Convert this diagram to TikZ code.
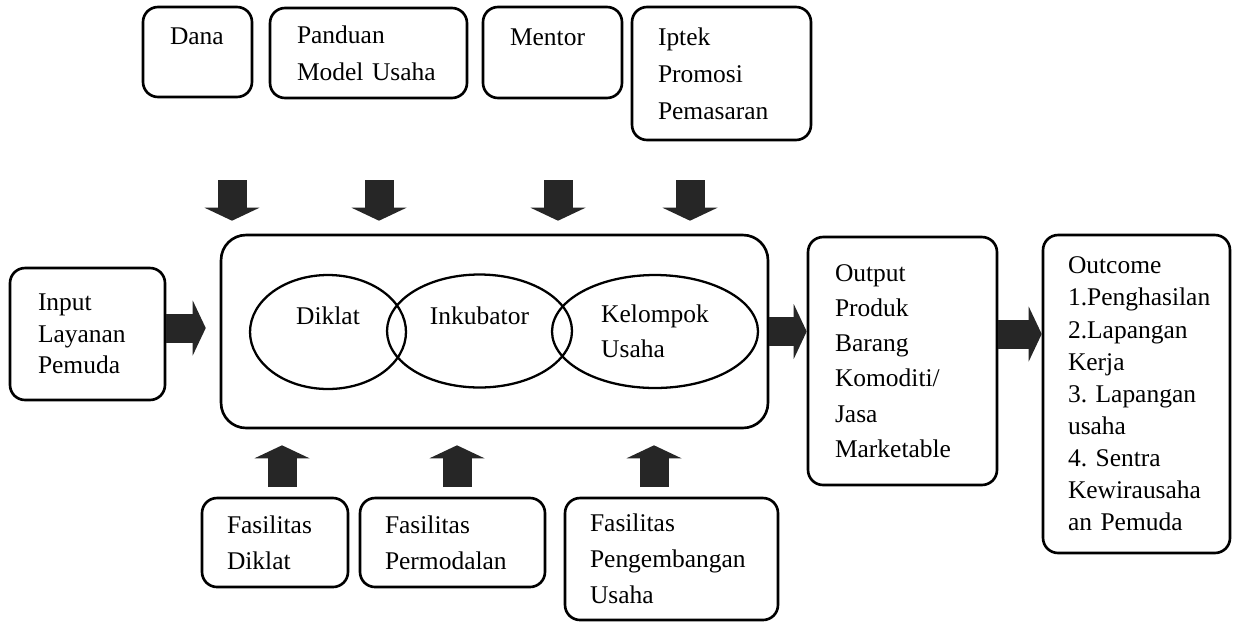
\documentclass[tikz,border=0pt]{standalone}
\usepackage{fontspec}
\setmainfont{Liberation Serif}
\usetikzlibrary{positioning,shapes.geometric,arrows.meta}
\frenchspacing

\begin{document}
\begin{tikzpicture}[x=0.02cm,y=-0.02cm,
  kotak/.style={draw,line width=1.5pt,rounded corners=0.3cm,align=left,inner ysep=0pt,font=\fontsize{14.5}{18}\selectfont},
  oval/.style={draw,ellipse,line width=1.3pt},
  tulisan/.style={font=\fontsize{14.5}{20}\selectfont,align=left},
  blok/.style={draw=black!85,line width=0.58cm,-{Triangle[width=1.1cm,length=0.26cm,line width=0pt]}}]
\useasboundingbox (0,0) rectangle (1236,623);

% kotak atas
\node[kotak,minimum height=1.8cm,text width=1.1cm,inner xsep=0.54cm,text depth=0.62cm] (dana) at (197.5,52) {Dana};
\node[kotak,minimum height=1.8cm,text width=2.86cm,inner xsep=0.54cm,font=\fontsize{14.5}{21}\selectfont] (panduan) at (368.5,53) {Panduan\\Model~Usaha};
\node[kotak,minimum height=1.82cm,text width=1.7cm,inner xsep=0.54cm,text depth=0.62cm] (mentor) at (552.5,52.5) {Mentor};
\node[kotak,minimum height=2.66cm,text width=2.54cm,inner xsep=0.52cm,font=\fontsize{14.5}{21}\selectfont] (iptek) at (721.5,73.5) {Iptek\\Promosi\\Pemasaran};

% input, proses, output
\node[kotak,minimum height=2.64cm,text width=1.98cm,inner xsep=0.56cm] (input) at (87.5,334) {Input\\Layanan\\Pemuda};
\node[kotak,rounded corners=0.5cm,minimum width=10.94cm,minimum height=3.86cm] (proses) at (494.5,331.5) {};
\node[oval,minimum width=3.12cm,minimum height=2.28cm,label={[tulisan,yshift=0.32cm]center:Diklat}] (diklat) at (328,332) {};
\node[oval,minimum width=3.7cm,minimum height=2.26cm,label={[tulisan,yshift=0.3cm]center:Inkubator}] (inkubator) at (479.5,331) {};
\node[oval,minimum width=4.12cm,minimum height=2.26cm,label={[tulisan]center:Kelompok\\Usaha}] (kelompok) at (655,331.5) {};
\node[kotak,minimum height=4.96cm,text width=2.7cm,inner xsep=0.54cm,font=\fontsize{14.5}{20}\selectfont] (output) at (902.5,361) {Output\\Produk\\Barang\\Komoditi/\\Jasa\\Marketable};
\node[kotak,minimum height=6.36cm,text width=2.74cm,inner xsep=0.5cm,font=\fontsize{14.5}{18.3}\selectfont] (outcome) at (1136.5,394) {Outcome\\1.Penghasilan\\2.Lapangan\\Kerja\\3.~Lapangan\\usaha\\4.~Sentra\\Kewirausaha\\an~Pemuda};

% kotak bawah
\node[kotak,minimum height=1.78cm,text width=1.92cm,inner xsep=0.5cm,font=\fontsize{14.5}{20.5}\selectfont] (fdiklat) at (275,542.5) {Fasilitas\\Diklat};
\node[kotak,minimum height=1.78cm,text width=2.7cm,inner xsep=0.5cm,font=\fontsize{14.5}{20.5}\selectfont] (fmodal) at (452.5,542.5) {Fasilitas\\Permodalan};
\node[kotak,minimum height=2.44cm,text width=3.26cm,inner xsep=0.5cm,font=\fontsize{14.5}{20.5}\selectfont] (fusaha) at (671.5,559) {Fasilitas\\Pengembangan\\Usaha};

% panah
\foreach \x/\n in {232/a,379/b,558/c,690/d}
  \coordinate (atas\n) at (\x,180);
\foreach \n in {a,b,c,d}
  \draw[blok,shorten >=0.26cm] (atas\n) -- (atas\n |- proses.north);
\foreach \x/\n in {282/a,457/b,654/c}
  \coordinate (bawah\n) at (\x,487);
\foreach \n in {a,b,c}
  \draw[blok,shorten >=0.32cm] (bawah\n) -- (bawah\n |- proses.south);
\draw[blok,shorten >=0.28cm] ([yshift=0.12cm]input.east) -- ([yshift=0.12cm]input.east -| proses.west);
\draw[blok] (proses.east) -- (proses.east -| output.west);
\draw[blok] ([yshift=0.54cm]output.east) -- ([yshift=0.54cm]output.east -| outcome.west);
\end{tikzpicture}
\end{document}
